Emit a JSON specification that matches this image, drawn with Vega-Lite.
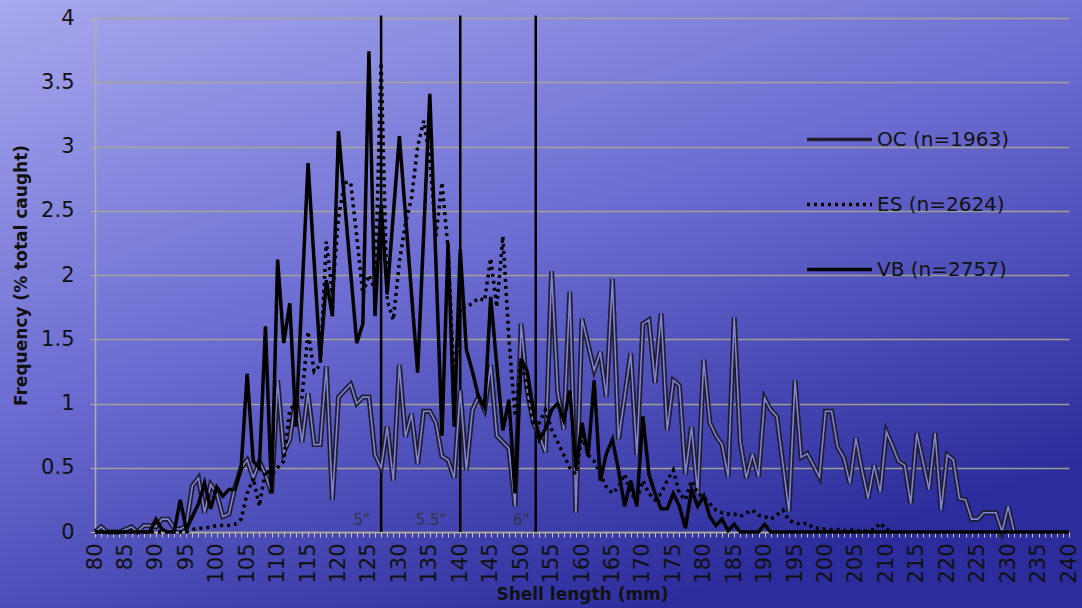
{
  "$schema": "https://vega.github.io/schema/vega-lite/v6.json",
  "width": 1082,
  "height": 608,
  "autosize": {"type": "none"},
  "padding": 0,
  "background": "#6a6ad0",
  "view": {
    "stroke": null,
    "fill": {"gradient": "linear", "x1": 0, "y1": 0, "x2": 0.6, "y2": 1,
      "stops": [{"offset": 0, "color": "#a8a8ee"}, {"offset": 0.5, "color": "#6c6cd2"}, {"offset": 1, "color": "#2c2c9c"}]}
  },
  "config": {
    "legend": {"orient": "none", "legendX": 805, "legendY": 105, "symbolType": "stroke", "symbolSize": 4225,
      "symbolStrokeWidth": 3.5, "labelFont": "DejaVu Sans", "labelFontSize": 20, "labelColor": "#111111",
      "labelOffset": 3, "rowPadding": 20, "padding": 0, "labelLimit": 300}
  },
  "data": {"values": [
    {"mm":80,"OC":0,"ES":0,"VB":0},{"mm":81,"OC":0.04,"ES":0,"VB":0},{"mm":82,"OC":0,"ES":0,"VB":0},{"mm":83,"OC":0,"ES":0,"VB":0},
    {"mm":84,"OC":0,"ES":0,"VB":0},{"mm":85,"OC":0.02,"ES":0,"VB":0},{"mm":86,"OC":0.04,"ES":0,"VB":0},{"mm":87,"OC":0,"ES":0,"VB":0},
    {"mm":88,"OC":0.05,"ES":0,"VB":0},{"mm":89,"OC":0.05,"ES":0,"VB":0},{"mm":90,"OC":0.04,"ES":0,"VB":0.1},{"mm":91,"OC":0.1,"ES":0,"VB":0.02},
    {"mm":92,"OC":0.1,"ES":0,"VB":0},{"mm":93,"OC":0.03,"ES":0,"VB":0},{"mm":94,"OC":0.02,"ES":0,"VB":0.25},{"mm":95,"OC":0.05,"ES":0,"VB":0.02},
    {"mm":96,"OC":0.36,"ES":0.02,"VB":0.12},{"mm":97,"OC":0.42,"ES":0.03,"VB":0.22},{"mm":98,"OC":0.15,"ES":0.03,"VB":0.38},{"mm":99,"OC":0.37,"ES":0.04,"VB":0.18},
    {"mm":100,"OC":0.3,"ES":0.05,"VB":0.35},{"mm":101,"OC":0.12,"ES":0.05,"VB":0.28},{"mm":102,"OC":0.14,"ES":0.05,"VB":0.33},{"mm":103,"OC":0.35,"ES":0.06,"VB":0.33},
    {"mm":104,"OC":0.5,"ES":0.1,"VB":0.5},{"mm":105,"OC":0.56,"ES":0.3,"VB":1.23},{"mm":106,"OC":0.42,"ES":0.42,"VB":0.55},{"mm":107,"OC":0.55,"ES":0.2,"VB":0.5},
    {"mm":108,"OC":0.45,"ES":0.48,"VB":1.6},{"mm":109,"OC":0.3,"ES":0.45,"VB":0.3},{"mm":110,"OC":1.18,"ES":0.5,"VB":2.12},{"mm":111,"OC":0.62,"ES":0.55,"VB":1.47},
    {"mm":112,"OC":0.72,"ES":0.95,"VB":1.78},{"mm":113,"OC":1.05,"ES":1.0,"VB":0.82},{"mm":114,"OC":0.7,"ES":1.05,"VB":1.85},{"mm":115,"OC":1.08,"ES":1.56,"VB":2.87},
    {"mm":116,"OC":0.68,"ES":1.25,"VB":2.1},{"mm":117,"OC":0.68,"ES":1.3,"VB":1.34},{"mm":118,"OC":1.29,"ES":2.26,"VB":1.96},{"mm":119,"OC":0.25,"ES":1.85,"VB":1.68},
    {"mm":120,"OC":1.05,"ES":2.45,"VB":3.12},{"mm":121,"OC":1.1,"ES":2.72,"VB":2.57},{"mm":122,"OC":1.15,"ES":2.72,"VB":2.02},{"mm":123,"OC":1.0,"ES":2.3,"VB":1.47},
    {"mm":124,"OC":1.05,"ES":1.85,"VB":1.62},{"mm":125,"OC":1.05,"ES":2.0,"VB":3.74},{"mm":126,"OC":0.6,"ES":1.88,"VB":1.68},{"mm":127,"OC":0.5,"ES":3.65,"VB":2.55},
    {"mm":128,"OC":0.82,"ES":1.8,"VB":1.85},{"mm":129,"OC":0.4,"ES":1.65,"VB":2.47},{"mm":130,"OC":1.3,"ES":2.1,"VB":3.08},{"mm":131,"OC":0.74,"ES":2.4,"VB":2.47},
    {"mm":132,"OC":0.92,"ES":2.6,"VB":1.85},{"mm":133,"OC":0.53,"ES":3.0,"VB":1.24},{"mm":134,"OC":0.94,"ES":3.2,"VB":2.33},{"mm":135,"OC":0.94,"ES":2.9,"VB":3.41},
    {"mm":136,"OC":0.85,"ES":2.3,"VB":2.1},{"mm":137,"OC":0.59,"ES":2.72,"VB":0.75},{"mm":138,"OC":0.56,"ES":2.2,"VB":2.25},{"mm":139,"OC":0.42,"ES":1.15,"VB":0.82},
    {"mm":140,"OC":1.1,"ES":1.75,"VB":2.2},{"mm":141,"OC":0.48,"ES":1.75,"VB":1.42},{"mm":142,"OC":0.95,"ES":1.78,"VB":1.25},{"mm":143,"OC":1.05,"ES":1.82,"VB":1.05},
    {"mm":144,"OC":0.95,"ES":1.8,"VB":0.97},{"mm":145,"OC":1.3,"ES":2.13,"VB":1.83},{"mm":146,"OC":0.75,"ES":1.75,"VB":1.3},{"mm":147,"OC":0.7,"ES":2.3,"VB":0.79},
    {"mm":148,"OC":0.65,"ES":1.5,"VB":1.03},{"mm":149,"OC":0.2,"ES":0.9,"VB":0.3},{"mm":150,"OC":1.62,"ES":1.35,"VB":1.35},{"mm":151,"OC":1.1,"ES":1.1,"VB":1.25},
    {"mm":152,"OC":0.85,"ES":0.85,"VB":0.95},{"mm":153,"OC":0.75,"ES":0.85,"VB":0.72},{"mm":154,"OC":0.62,"ES":0.95,"VB":0.8},{"mm":155,"OC":2.03,"ES":0.8,"VB":0.95},
    {"mm":156,"OC":1.1,"ES":0.7,"VB":1.0},{"mm":157,"OC":0.8,"ES":0.6,"VB":0.87},{"mm":158,"OC":1.87,"ES":0.5,"VB":1.1},{"mm":159,"OC":0.15,"ES":0.45,"VB":0.5},
    {"mm":160,"OC":1.66,"ES":0.75,"VB":0.85},{"mm":161,"OC":1.46,"ES":0.6,"VB":0.59},{"mm":162,"OC":1.26,"ES":0.55,"VB":1.18},{"mm":163,"OC":1.4,"ES":0.45,"VB":0.4},
    {"mm":164,"OC":1.05,"ES":0.35,"VB":0.61},{"mm":165,"OC":1.97,"ES":0.3,"VB":0.72},{"mm":166,"OC":0.72,"ES":0.35,"VB":0.48},{"mm":167,"OC":1.05,"ES":0.45,"VB":0.2},
    {"mm":168,"OC":1.39,"ES":0.3,"VB":0.4},{"mm":169,"OC":0.6,"ES":0.25,"VB":0.2},{"mm":170,"OC":1.62,"ES":0.4,"VB":0.9},{"mm":171,"OC":1.65,"ES":0.3,"VB":0.45},
    {"mm":172,"OC":1.16,"ES":0.25,"VB":0.3},{"mm":173,"OC":1.7,"ES":0.3,"VB":0.18},{"mm":174,"OC":0.79,"ES":0.4,"VB":0.18},{"mm":175,"OC":1.18,"ES":0.48,"VB":0.3},
    {"mm":176,"OC":1.14,"ES":0.3,"VB":0.2},{"mm":177,"OC":0.45,"ES":0.25,"VB":0.03},{"mm":178,"OC":0.82,"ES":0.4,"VB":0.33},{"mm":179,"OC":0.3,"ES":0.3,"VB":0.2},
    {"mm":180,"OC":1.34,"ES":0.27,"VB":0.28},{"mm":181,"OC":0.85,"ES":0.22,"VB":0.12},{"mm":182,"OC":0.75,"ES":0.17,"VB":0.05},{"mm":183,"OC":0.68,"ES":0.15,"VB":0.1},
    {"mm":184,"OC":0.43,"ES":0.14,"VB":0.01},{"mm":185,"OC":1.67,"ES":0.14,"VB":0.06},{"mm":186,"OC":0.7,"ES":0.12,"VB":0},{"mm":187,"OC":0.42,"ES":0.15,"VB":0},
    {"mm":188,"OC":0.61,"ES":0.17,"VB":0},{"mm":189,"OC":0.43,"ES":0.13,"VB":0},{"mm":190,"OC":1.04,"ES":0.12,"VB":0.06},{"mm":191,"OC":0.95,"ES":0.1,"VB":0},
    {"mm":192,"OC":0.9,"ES":0.13,"VB":0},{"mm":193,"OC":0.53,"ES":0.17,"VB":0},{"mm":194,"OC":0.16,"ES":0.09,"VB":0},{"mm":195,"OC":1.18,"ES":0.07,"VB":0},
    {"mm":196,"OC":0.58,"ES":0.06,"VB":0},{"mm":197,"OC":0.61,"ES":0.07,"VB":0},{"mm":198,"OC":0.52,"ES":0.03,"VB":0},{"mm":199,"OC":0.43,"ES":0.03,"VB":0},
    {"mm":200,"OC":0.94,"ES":0.02,"VB":0},{"mm":201,"OC":0.94,"ES":0.02,"VB":0},{"mm":202,"OC":0.66,"ES":0.02,"VB":0},{"mm":203,"OC":0.58,"ES":0.01,"VB":0},
    {"mm":204,"OC":0.38,"ES":0.02,"VB":0},{"mm":205,"OC":0.73,"ES":0.01,"VB":0},{"mm":206,"OC":0.48,"ES":0.01,"VB":0},{"mm":207,"OC":0.26,"ES":0.01,"VB":0},
    {"mm":208,"OC":0.52,"ES":0.02,"VB":0},{"mm":209,"OC":0.31,"ES":0.07,"VB":0},{"mm":210,"OC":0.78,"ES":0.02,"VB":0},{"mm":211,"OC":0.67,"ES":0,"VB":0},
    {"mm":212,"OC":0.55,"VB":0},{"mm":213,"OC":0.52,"VB":0},{"mm":214,"OC":0.22,"VB":0},{"mm":215,"OC":0.77,"VB":0},
    {"mm":216,"OC":0.55,"VB":0},{"mm":217,"OC":0.33,"VB":0},{"mm":218,"OC":0.77,"VB":0},{"mm":219,"OC":0.17,"VB":0},
    {"mm":220,"OC":0.6,"VB":0},{"mm":221,"OC":0.56,"VB":0},{"mm":222,"OC":0.26,"VB":0},{"mm":223,"OC":0.25,"VB":0},
    {"mm":224,"OC":0.1,"VB":0},{"mm":225,"OC":0.1,"VB":0},{"mm":226,"OC":0.15,"VB":0},{"mm":227,"OC":0.15,"VB":0},
    {"mm":228,"OC":0.15,"VB":0},{"mm":229,"OC":0,"VB":0},{"mm":230,"OC":0.2,"VB":0},{"mm":231,"OC":0,"VB":0},
    {"mm":232,"VB":0},{"mm":233,"VB":0},{"mm":234,"VB":0},{"mm":235,"VB":0},{"mm":236,"VB":0},{"mm":237,"VB":0},
    {"mm":238,"VB":0},{"mm":239,"VB":0},{"mm":240,"VB":0}
  ]},
  "transform": [{"fold": ["OC", "ES", "VB"], "as": ["series", "v"]}],
  "encoding": {
    "x": {"field": "mm", "type": "quantitative",
      "scale": {"domain": [80, 240], "range": [95, 1069], "nice": false, "zero": false},
      "axis": {"orient": "bottom", "offset": -76, "tickCount": 160, "labelExpr": "datum.value % 5 == 0 ? datum.label : ''",
        "labelAngle": -90, "labelFont": "DejaVu Sans", "labelFontSize": 21, "labelColor": "#111111", "labelPadding": 6,
        "labelOverlap": false, "labelFlush": false, "labelBound": false,
        "tickSize": 5, "tickColor": "#c8c8a8", "tickWidth": 1, "domainColor": "#b0b0a0", "domainWidth": 1.5, "grid": false,
        "title": "Shell length (mm)", "titleFont": "DejaVu Sans", "titleFontSize": 17, "titleFontWeight": "bold",
        "titleColor": "#111111", "titlePadding": 3}
    }
  },
  "layer": [
    {
      "data": {"values": [{"mm": 127}, {"mm": 140}, {"mm": 152.4}]},
      "transform": [],
      "mark": {"type": "rule", "color": "#000000", "strokeWidth": 2.5},
      "encoding": {
        "y": {"datum": 0, "type": "quantitative", "scale": {"domain": [0, 4], "range": [532, 18], "nice": false, "zero": false}},
        "y2": {"datum": 4.02}
      }
    },
    {
      "transform": [{"filter": {"field": "series", "equal": "OC"}}],
      "mark": {"type": "line", "strokeWidth": 5, "strokeJoin": "miter"},
      "encoding": {
        "y": {"field": "v", "type": "quantitative",
          "scale": {"domain": [0, 4], "range": [532, 18], "nice": false, "zero": false},
          "axis": {"orient": "left", "offset": -95, "values": [0, 0.5, 1, 1.5, 2, 2.5, 3, 3.5, 4], "format": "~g", "grid": true,
            "gridColor": "#a8a890", "gridWidth": 1.5, "gridOpacity": 0.9, "domainColor": "#b0b0a0", "domainWidth": 1.5,
            "tickSize": 5, "tickColor": "#b0b0a0", "labelFont": "DejaVu Sans", "labelFontSize": 21, "labelColor": "#111111",
            "labelPadding": 16, "title": "Frequency (% total caught)", "titleFont": "DejaVu Sans", "titleFontSize": 17,
            "titleFontWeight": "bold", "titleColor": "#111111", "titlePadding": 10}
        },
        "color": {"field": "series", "type": "nominal",
          "scale": {"domain": ["OC", "ES", "VB"], "range": ["#1e1e2e", "#000000", "#000000"]},
          "legend": {"title": null, "labelExpr": "datum.label == 'OC' ? 'OC (n=1963)' : datum.label == 'ES' ? 'ES (n=2624)' : 'VB (n=2757)'"}},
        "strokeDash": {"field": "series", "type": "nominal",
          "scale": {"domain": ["OC", "ES", "VB"], "range": [[1, 0], [3, 4], [1, 0]]},
          "legend": {"title": null, "labelExpr": "datum.label == 'OC' ? 'OC (n=1963)' : datum.label == 'ES' ? 'ES (n=2624)' : 'VB (n=2757)'"}}
      }
    },
    {
      "transform": [{"filter": {"field": "series", "equal": "OC"}}],
      "mark": {"type": "line", "strokeWidth": 1.6, "color": "#8282d6", "strokeJoin": "miter"},
      "encoding": {
        "y": {"field": "v", "type": "quantitative"}
      }
    },
    {
      "transform": [{"filter": {"field": "series", "oneOf": ["ES", "VB"]}}],
      "mark": {"type": "line", "strokeWidth": 3.5},
      "encoding": {
        "y": {"field": "v", "type": "quantitative"},
        "color": {"field": "series", "type": "nominal",
          "scale": {"domain": ["OC", "ES", "VB"], "range": ["#1e1e2e", "#000000", "#000000"]},
          "legend": {"title": null, "labelExpr": "datum.label == 'OC' ? 'OC (n=1963)' : datum.label == 'ES' ? 'ES (n=2624)' : 'VB (n=2757)'"}},
        "strokeDash": {"field": "series", "type": "nominal",
          "scale": {"domain": ["OC", "ES", "VB"], "range": [[1, 0], [3, 4], [1, 0]]},
          "legend": {"title": null, "labelExpr": "datum.label == 'OC' ? 'OC (n=1963)' : datum.label == 'ES' ? 'ES (n=2624)' : 'VB (n=2757)'"}}
      }
    },
    {
      "data": {"values": [{"mm": 123.8, "v": 0.09, "label": "5\""}, {"mm": 135.2, "v": 0.09, "label": "5.5\""}, {"mm": 150, "v": 0.09, "label": "6\""}]},
      "transform": [],
      "mark": {"type": "text", "font": "DejaVu Sans", "fontSize": 15, "color": "#333344", "baseline": "middle"},
      "encoding": {
        "y": {"field": "v", "type": "quantitative"},
        "text": {"field": "label"}
      }
    }
  ]
}
